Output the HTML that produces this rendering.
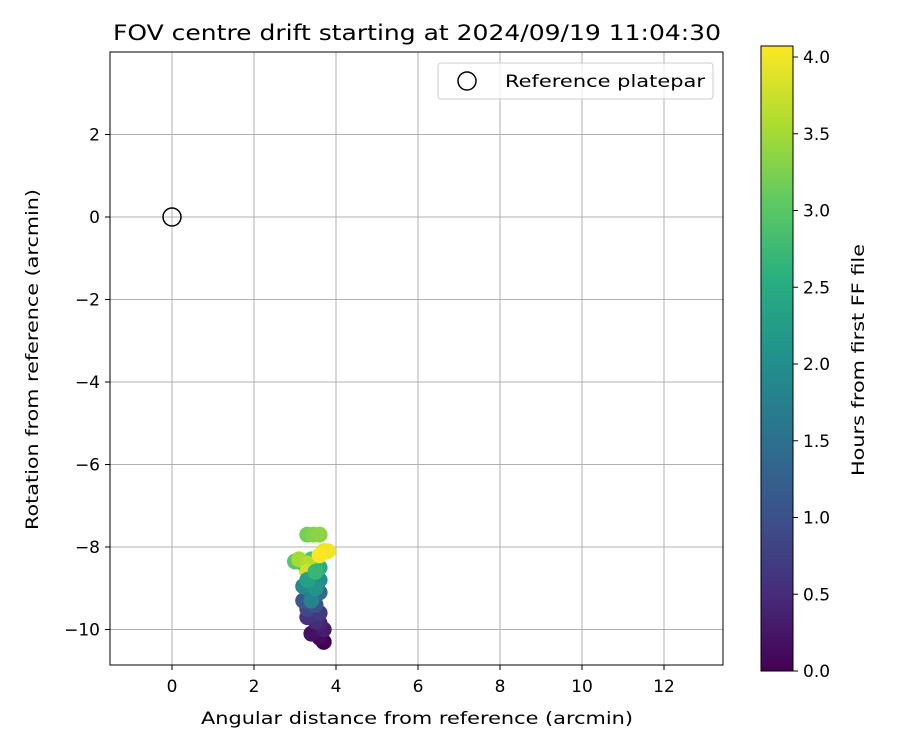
<!DOCTYPE html>
<html><head><meta charset="utf-8"><style>
body{margin:0;background:#fff}
svg text{font-family:"DejaVu Sans","Liberation Sans",sans-serif;fill:#000}
</style></head><body>
<svg id="c" width="900" height="750" xmlns="http://www.w3.org/2000/svg">
<defs><linearGradient id="vir" x1="0" y1="1" x2="0" y2="0">
<stop offset="0" stop-color="#440154"/><stop offset="0.125" stop-color="#472d7b"/><stop offset="0.25" stop-color="#3b528b"/><stop offset="0.375" stop-color="#2c728e"/><stop offset="0.5" stop-color="#21918c"/><stop offset="0.625" stop-color="#28ae80"/><stop offset="0.75" stop-color="#5ec962"/><stop offset="0.875" stop-color="#addc30"/><stop offset="1" stop-color="#fde725"/></linearGradient></defs>
<text x="113" y="40" font-size="21" textLength="608" lengthAdjust="spacingAndGlyphs">FOV centre drift starting at 2024/09/19 11:04:30</text>
<g id="grid"></g><g id="pts"></g>
<rect x="110" y="52" width="613" height="613" fill="none" stroke="#000" stroke-width="1"/>
<g id="ticks"></g>
<text x="201" y="724" font-size="17" textLength="432" lengthAdjust="spacingAndGlyphs">Angular distance from reference (arcmin)</text>
<text transform="translate(38,530) rotate(-90)" font-size="17" textLength="341" lengthAdjust="spacingAndGlyphs">Rotation from reference (arcmin)</text>
<g>
<rect x="438" y="63" width="275" height="36" rx="3" fill="#fff" fill-opacity="0.8" stroke="#ccc"/>
<circle cx="467" cy="81" r="9" fill="none" stroke="#000" stroke-width="1.5"/>
<text x="505" y="87" font-size="17" textLength="200" lengthAdjust="spacingAndGlyphs">Reference platepar</text></g>
<rect x="761" y="46" width="32" height="625" fill="url(#vir)" stroke="#000"/>
<g id="cb"></g>
<text transform="translate(864,476) rotate(-90)" font-size="17" textLength="232" lengthAdjust="spacingAndGlyphs">Hours from first FF file</text>
</svg>
<script>
const xTicks=[0,2,4,6,8,10,12];
const yTicks=[2,0,-2,-4,-6,-8,-10];
const cbTicks=[0,0.5,1,1.5,2,2.5,3,3.5,4];
const refX=[0], refY=[0];
const ptX=[3.7,3.6,3.4,3.7,3.6,3.5,3.3,3.6,3.3,3.5,3.2,3.4,3.6,3.3,3.5,3.2,3.6,3.4,3.3,3.6,3.5,3.2,3.4,3.0,3.3,3.45,3.6,3.1,3.3,3.3,3.7,3.8,3.6,3.4,3.5,3.3,3.5];
const ptY=[-10.3,-10.2,-10.1,-10.0,-9.85,-9.8,-9.7,-9.6,-9.5,-9.4,-9.3,-9.2,-9.1,-9.0,-8.9,-8.95,-8.8,-8.7,-8.6,-8.5,-8.5,-8.4,-8.3,-8.35,-7.7,-7.7,-7.7,-8.3,-8.4,-8.6,-8.1,-8.1,-8.2,-9.3,-9.0,-8.8,-8.6];
const ptT=[0.0,0.1,0.2,0.3,0.4,0.5,0.6,0.7,0.9,1.0,1.1,1.3,1.4,1.6,1.7,1.9,2.0,2.2,2.4,2.5,2.6,2.8,2.9,3.0,3.2,3.3,3.35,3.5,3.6,3.8,3.9,4.0,4.07,1.8,2.1,2.3,2.7];
const X=v=>172+v*41, Y=v=>217-v*41.25, CB=v=>671-v*153.5;
const NS='http://www.w3.org/2000/svg';
function mk(p,t,a){const e=document.createElementNS(NS,t);for(const k in a)e.setAttribute(k,a[k]);document.getElementById(p).appendChild(e);return e;}
const stops=[[68,1,84],[71,45,123],[59,82,139],[44,114,142],[33,145,140],[40,174,128],[94,201,98],[173,220,48],[253,231,37]];
function vir(t){let f=Math.max(0,Math.min(1,t/4.07))*8,i=Math.min(7,Math.floor(f)),r=f-i;const a=stops[i],b=stops[i+1];return`rgb(${a.map((v,k)=>Math.round(v+(b[k]-v)*r)).join(',')})`;}
xTicks.forEach(v=>{const x=X(v);
let g=mk('grid','line',{x1:x,x2:x,y1:52,y2:665,stroke:'#b0b0b0','stroke-width':1});

let l=mk('ticks','line',{x1:x,x2:x,y1:665,y2:670,stroke:'#000'});

let t=mk('ticks','text',{x:x,y:692,'font-size':17,'text-anchor':'middle'});t.textContent=v;
});
yTicks.forEach(v=>{const y=Y(v);
let g=mk('grid','line',{x1:110,x2:723,y1:y,y2:y,stroke:'#b0b0b0','stroke-width':1});

let l=mk('ticks','line',{x1:105,x2:110,y1:y,y2:y,stroke:'#000'});

let t=mk('ticks','text',{x:100,y:y+6,'font-size':17,'text-anchor':'end'});t.textContent=v<0?'\u2212'+(-v):v;
});
cbTicks.forEach(v=>{const y=CB(v);
let l=mk('cb','line',{x1:793,x2:798,y1:y,y2:y,stroke:'#000'});

let t=mk('cb','text',{x:803,y:y+6,'font-size':17});t.textContent=v.toFixed(1);
});
ptX.forEach((v,i)=>{let c=mk('pts','circle',{cx:X(v),cy:Y(ptY[i]),r:8,fill:vir(ptT[i])});
});
refX.forEach((v,i)=>{let c=mk('pts','circle',{cx:X(v),cy:Y(refY[i]),r:9,fill:'none',stroke:'#000','stroke-width':1.5});
});
</script>
</body></html>
